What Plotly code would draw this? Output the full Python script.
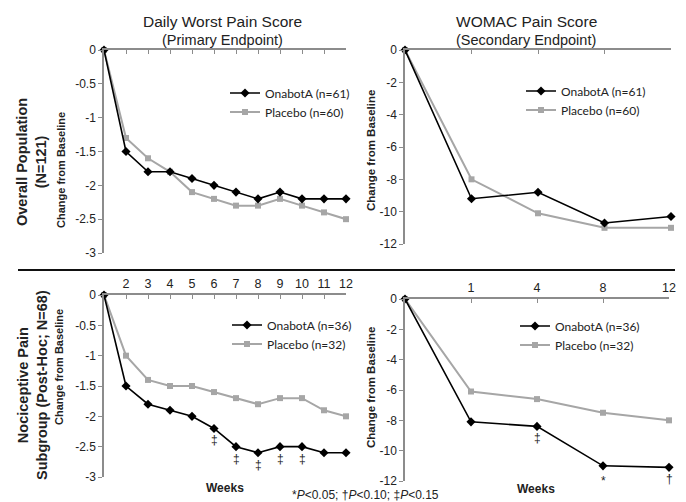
import plotly.graph_objects as go

# ---------------- data ----------------
weeks_daily = ["0", "2", "3", "4", "5", "6", "7", "8", "9", "10", "11", "12"]
weeks_womac = ["0", "1", "4", "8", "12"]

overall_daily_onabot = [0, -1.5, -1.8, -1.8, -1.9, -2.0, -2.1, -2.2, -2.1, -2.2, -2.2, -2.2]
overall_daily_placebo = [0, -1.3, -1.6, -1.8, -2.1, -2.2, -2.3, -2.3, -2.2, -2.3, -2.4, -2.5]
overall_womac_onabot = [0, -9.2, -8.8, -10.7, -10.3]
overall_womac_placebo = [0, -8.0, -10.1, -11.0, -11.0]

noci_daily_onabot = [0, -1.5, -1.8, -1.9, -2.0, -2.2, -2.5, -2.6, -2.5, -2.5, -2.6, -2.6]
noci_daily_placebo = [0, -1.0, -1.4, -1.5, -1.5, -1.6, -1.7, -1.8, -1.7, -1.7, -1.9, -2.0]
noci_womac_onabot = [0, -8.1, -8.4, -11.0, -11.1]
noci_womac_placebo = [0, -6.1, -6.6, -7.5, -8.0]

noci_daily_sig = {"6": "‡", "7": "‡", "8": "‡", "9": "‡", "10": "‡"}
noci_womac_sig = {"4": "‡", "8": "*", "12": "†"}

daily_yticks = [0, -0.5, -1, -1.5, -2, -2.5, -3]
daily_yticklabels = ["0", "-0.5", "-1", "-1.5", "-2", "-2.5", "-3"]
womac_yticks = [0, -2, -4, -6, -8, -10, -12]
womac_yticklabels = ["0", "-2", "-4", "-6", "-8", "-10", "-12"]

legend_overall = ["OnabotA (n=61)", "Placebo (n=60)"]
legend_noci = ["OnabotA (n=36)", "Placebo (n=32)"]

# ---------------- figure ----------------
W, H = 686, 502
BLACK = "#000000"
GRAY = "#a6a6a6"
AXIS = "#8c8c8c"
ARIAL = "Liberation Sans, Arial, sans-serif"
NARROW = "Liberation Sans Narrow, Arial Narrow, Liberation Sans, sans-serif"
LEG_FONT = "Lato, Open Sans, sans-serif"
SIG_SHIFT = {"‡": -12, "*": -15, "†": -12}


def px_x(x0, x1):
    return [x0 / W, x1 / W]


def px_y(top, bottom):
    return [1 - bottom / H, 1 - top / H]


fig = go.Figure()

panels = [
    ("x", "y", weeks_daily, overall_daily_onabot, overall_daily_placebo, legend_overall, "legend"),
    ("x2", "y2", weeks_womac, overall_womac_onabot, overall_womac_placebo, legend_overall, "legend2"),
    ("x3", "y3", weeks_daily, noci_daily_onabot, noci_daily_placebo, legend_noci, "legend3"),
    ("x4", "y4", weeks_womac, noci_womac_onabot, noci_womac_placebo, legend_noci, "legend4"),
]

for xa, ya, xs, on, pl, names, leg in panels:
    fig.add_trace(go.Scatter(
        x=xs, y=pl, xaxis=xa, yaxis=ya, name=names[1], legend=leg,
        mode="lines+markers", cliponaxis=False,
        line=dict(color=GRAY, width=2),
        marker=dict(symbol="square", size=6, color=GRAY),
    ))
    fig.add_trace(go.Scatter(
        x=xs, y=on, xaxis=xa, yaxis=ya, name=names[0], legend=leg,
        mode="lines+markers", cliponaxis=False,
        line=dict(color=BLACK, width=1.6),
        marker=dict(symbol="diamond", size=7, color=BLACK),
    ))

# significance annotations (category index positions)
for wk, sym in noci_daily_sig.items():
    i = weeks_daily.index(wk)
    fig.add_annotation(x=i, y=noci_daily_onabot[i], xref="x3", yref="y3",
                       text=sym, showarrow=False, yshift=SIG_SHIFT[sym],
                       font=dict(family=ARIAL, size=12, color="#222222"))
for wk, sym in noci_womac_sig.items():
    i = weeks_womac.index(wk)
    fig.add_annotation(x=i, y=noci_womac_onabot[i], xref="x4", yref="y4",
                       text=sym, showarrow=False, yshift=SIG_SHIFT[sym],
                       font=dict(family=ARIAL, size=12, color="#222222"))

common_x = dict(type="category", side="top", showline=True, linecolor=AXIS, linewidth=1.5,
                ticks="inside", ticklen=4, tickcolor=AXIS, showgrid=False, zeroline=False,
                automargin=False,
                tickfont=dict(family=ARIAL, size=12.5, color="#222222"))
common_y = dict(showline=True, linecolor=AXIS, linewidth=1.5, ticks="outside", ticklen=4,
                tickcolor=AXIS, showgrid=False, zeroline=False, automargin=False,
                tickfont=dict(family=ARIAL, size=12, color="#222222"))

fig.update_layout(
    template="none",
    width=W, height=H, autosize=False,
    margin=dict(l=0, r=0, t=0, b=0, pad=0),
    paper_bgcolor="white", plot_bgcolor="white",
    xaxis=dict(common_x, domain=px_x(104, 346), anchor="y", range=[0, 11],
               tickvals=weeks_daily[1:], showticklabels=False),
    yaxis=dict(common_y, domain=px_y(50, 253), anchor="x", range=[-3, 0],
               tickvals=daily_yticks, ticktext=daily_yticklabels),
    xaxis2=dict(common_x, domain=px_x(405, 671), anchor="y2", range=[0, 4],
                tickvals=weeks_womac[1:], showticklabels=False),
    yaxis2=dict(common_y, domain=px_y(50, 244), anchor="x2", range=[-12, 0],
                tickvals=womac_yticks, ticktext=womac_yticklabels),
    xaxis3=dict(common_x, domain=px_x(104, 346), anchor="y3", range=[0, 11],
                tickvals=weeks_daily[1:], showticklabels=True),
    yaxis3=dict(common_y, domain=px_y(295, 477), anchor="x3", range=[-3, 0],
                tickvals=daily_yticks, ticktext=daily_yticklabels),
    xaxis4=dict(common_x, domain=px_x(405, 669), anchor="y4", range=[0, 4],
                tickvals=weeks_womac[1:], showticklabels=True),
    yaxis4=dict(common_y, domain=px_y(299, 481), anchor="x4", range=[-12, 0],
                tickvals=womac_yticks, ticktext=womac_yticklabels),
    showlegend=True,
)

leg_common = dict(xanchor="left", yanchor="top", bgcolor="rgba(0,0,0,0)",
                  font=dict(family=LEG_FONT, size=12, color="#222222"),
                  traceorder="reversed", itemwidth=30, tracegroupgap=0)
fig.update_layout(
    legend=dict(leg_common, x=225 / W, y=1 - 78.5 / H),
    legend2=dict(leg_common, x=521 / W, y=1 - 76.5 / H),
    legend3=dict(leg_common, x=227 / W, y=1 - 310.5 / H),
    legend4=dict(leg_common, x=515 / W, y=1 - 311.5 / H),
)


def ann(x, y, text, size, angle=0, family=ARIAL, color="#222222"):
    fig.add_annotation(x=x / W, y=1 - y / H, xref="paper", yref="paper", text=text,
                       showarrow=False, textangle=angle, xanchor="center", yanchor="middle",
                       font=dict(family=family, size=size, color=color))


ann(222, 22, "Daily Worst Pain Score", 15.5)
ann(222, 40, "(Primary Endpoint)", 14.5)
ann(526, 22, "WOMAC Pain Score", 15.5)
ann(526, 40, "(Secondary Endpoint)", 14.5)

ann(32, 162, "<b>Overall Population<br>(N=121)</b>", 14.5, angle=-90)
ann(61, 170, "<b>Change from Baseline</b>", 11, angle=-90, family=NARROW)
ann(371, 151, "<b>Change from Baseline</b>", 11.5, angle=-90)

ann(32, 385, "<b>Nociceptive Pain<br>Subgroup (Post-Hoc; N=68)</b>", 14.5, angle=-90)
ann(59, 367, "<b>Change from Baseline</b>", 11, angle=-90, family=NARROW)
ann(371, 388, "<b>Change from Baseline</b>", 11.5, angle=-90)

ann(225, 488, "<b>Weeks</b>", 12)
ann(536, 489, "<b>Weeks</b>", 12)
ann(365, 495, "*<i>P</i>&lt;0.05; †<i>P</i>&lt;0.10; ‡<i>P</i>&lt;0.15", 12)

fig.add_shape(type="line", xref="paper", yref="paper", x0=18 / W, x1=675 / W,
              y0=1 - 270 / H, y1=1 - 270 / H, line=dict(color="#111111", width=2))

page_fix = """
document.body.style.margin = '0';
document.body.style.overflow = 'hidden';
"""
fig.write_html("out.html", post_script=page_fix, config={"displayModeBar": False})
